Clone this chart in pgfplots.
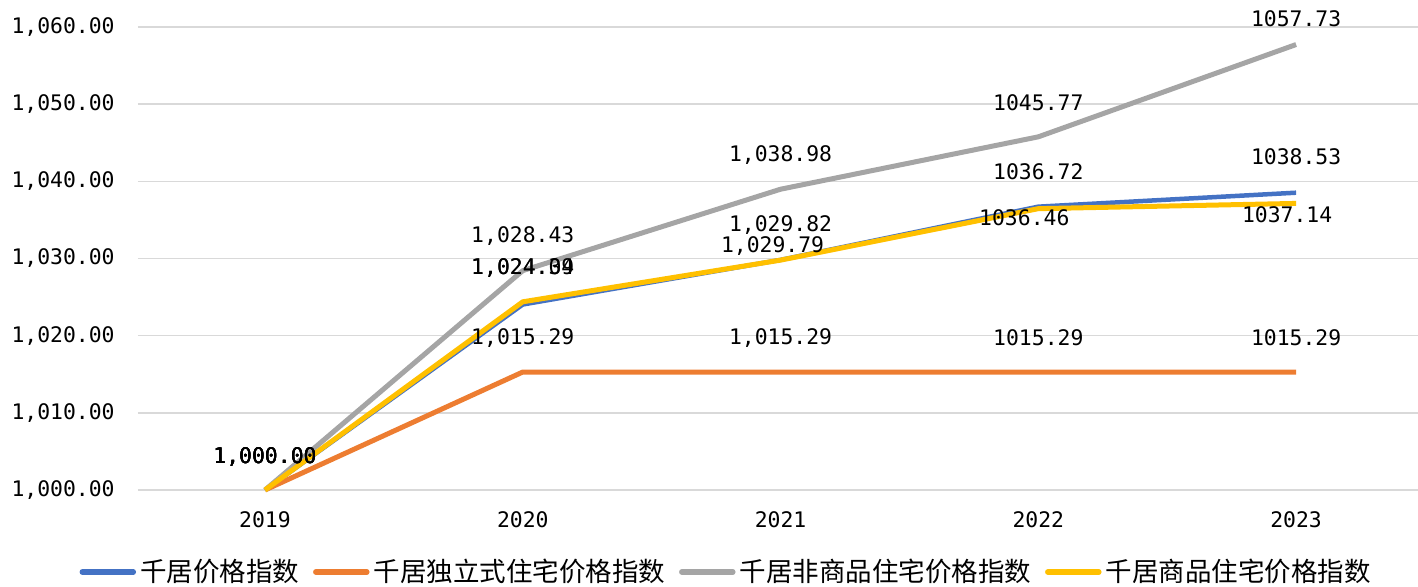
\documentclass[border=0pt]{standalone}
\usepackage{pgfplots}
\pgfplotsset{compat=1.18}
\usepackage{pgfplotstable}
\usepackage{fontspec}
\newfontfamily\numfont{DejaVu Sans Mono}
\newfontfamily\cjk{Noto Sans CJK SC}
\newcommand\nf{\numfont\fontsize{10.7}{12}\selectfont}
\definecolor{cblue}{HTML}{4472C4}
\definecolor{corange}{HTML}{ED7D31}
\definecolor{cgray}{HTML}{A5A5A5}
\definecolor{cyellow}{HTML}{FFC000}
\definecolor{gridc}{HTML}{D9D9D9}

\pgfplotstableread{
x y lab dx dy
0 1000 1,000.00 0 16.5
1 1024.04 1,024.04 0 18.2
2 1029.82 1,029.82 0 17.5
3 1036.72 1036.72 0 17.3
4 1038.53 1038.53 0 17.8
}\tblA
\pgfplotstableread{
x y lab dx dy
0 1000 1,000.00 0 16.5
1 1015.29 1,015.29 0 17
2 1015.29 1,015.29 0 17
3 1015.29 1015.29 0 17
4 1015.29 1015.29 0 17
}\tblB
\pgfplotstableread{
x y lab dx dy
0 1000 1,000.00 0 16.5
1 1028.43 1,028.43 0 17.3
2 1038.98 1,038.98 0 17
3 1045.77 1045.77 0 17
4 1057.73 1057.73 0 12.75
}\tblC
\pgfplotstableread{
x y lab dx dy
0 1000 1,000.00 0 16.5
1 1024.39 1,024.39 0 16.9
2 1029.79 1,029.79 -4 7
3 1036.46 1036.46 -7 -4.75
4 1037.14 1037.14 -4.5 -5.8
}\tblD

\pgfplotsset{lab/.style={nodes near coords, point meta=explicit symbolic,
  visualization depends on={\thisrow{dx}\as\dx},
  visualization depends on={\thisrow{dy}\as\dy},
  every node near coord/.style={font=\nf, text=black, anchor=center, inner sep=0pt, xshift=\dx pt, yshift=\dy pt}}}

\begin{document}
\begin{tikzpicture}
\useasboundingbox (-69pt,-48pt) rectangle (640pt,245pt);
\begin{axis}[
  at={(0pt,0pt)}, anchor=south west,
  scale only axis, width=640pt, height=231.5pt,
  xmin=-0.4927, xmax=4.473, ymin=1000, ymax=1060,
  xtick={0,1,2,3,4}, xticklabels={2019,2020,2021,2022,2023},
  ytick={1000,1010,1020,1030,1040,1050,1060},
  axis line style={draw=none},
  major tick length=0pt,
  ymajorgrids, grid style={draw=gridc, line width=0.75pt},
  clip=false,
  yticklabel style={font=\nf, anchor=east, inner sep=0pt, xshift=-11.5pt,
    /pgf/number format/fixed, /pgf/number format/fixed zerofill,
    /pgf/number format/precision=2, /pgf/number format/1000 sep={,},
    /pgf/number format/assume math mode=true},
  xticklabel style={font=\nf, anchor=center, inner sep=0pt, yshift=-15pt},
  legend columns=4,
  legend style={at={(axis description cs:0.4602,-0.1771)}, anchor=center,
    draw=none, fill=none, font=\cjk\fontsize{13.25}{15}\selectfont,
    /tikz/every even column/.append style={column sep=5pt}},
  legend image code/.code={\draw[#1, line width=2.75pt, line cap=round] (0pt,0pt) -- (25.5pt,0pt);},
]
\addplot[color=cblue, line width=2.25pt, line join=round, no marks, lab] table[x=x, y=y, meta=lab]{\tblA};
\addlegendentry{千居价格指数}
\addplot[color=corange, line width=2.5pt, line join=round, no marks, lab] table[x=x, y=y, meta=lab]{\tblB};
\addlegendentry{千居独立式住宅价格指数}
\addplot[color=cgray, line width=2.5pt, line join=round, no marks, lab] table[x=x, y=y, meta=lab]{\tblC};
\addlegendentry{千居非商品住宅价格指数}
\addplot[color=cyellow, line width=2.5pt, line join=round, no marks, lab] table[x=x, y=y, meta=lab]{\tblD};
\addlegendentry{千居商品住宅价格指数}
\end{axis}
\end{tikzpicture}
\end{document}
